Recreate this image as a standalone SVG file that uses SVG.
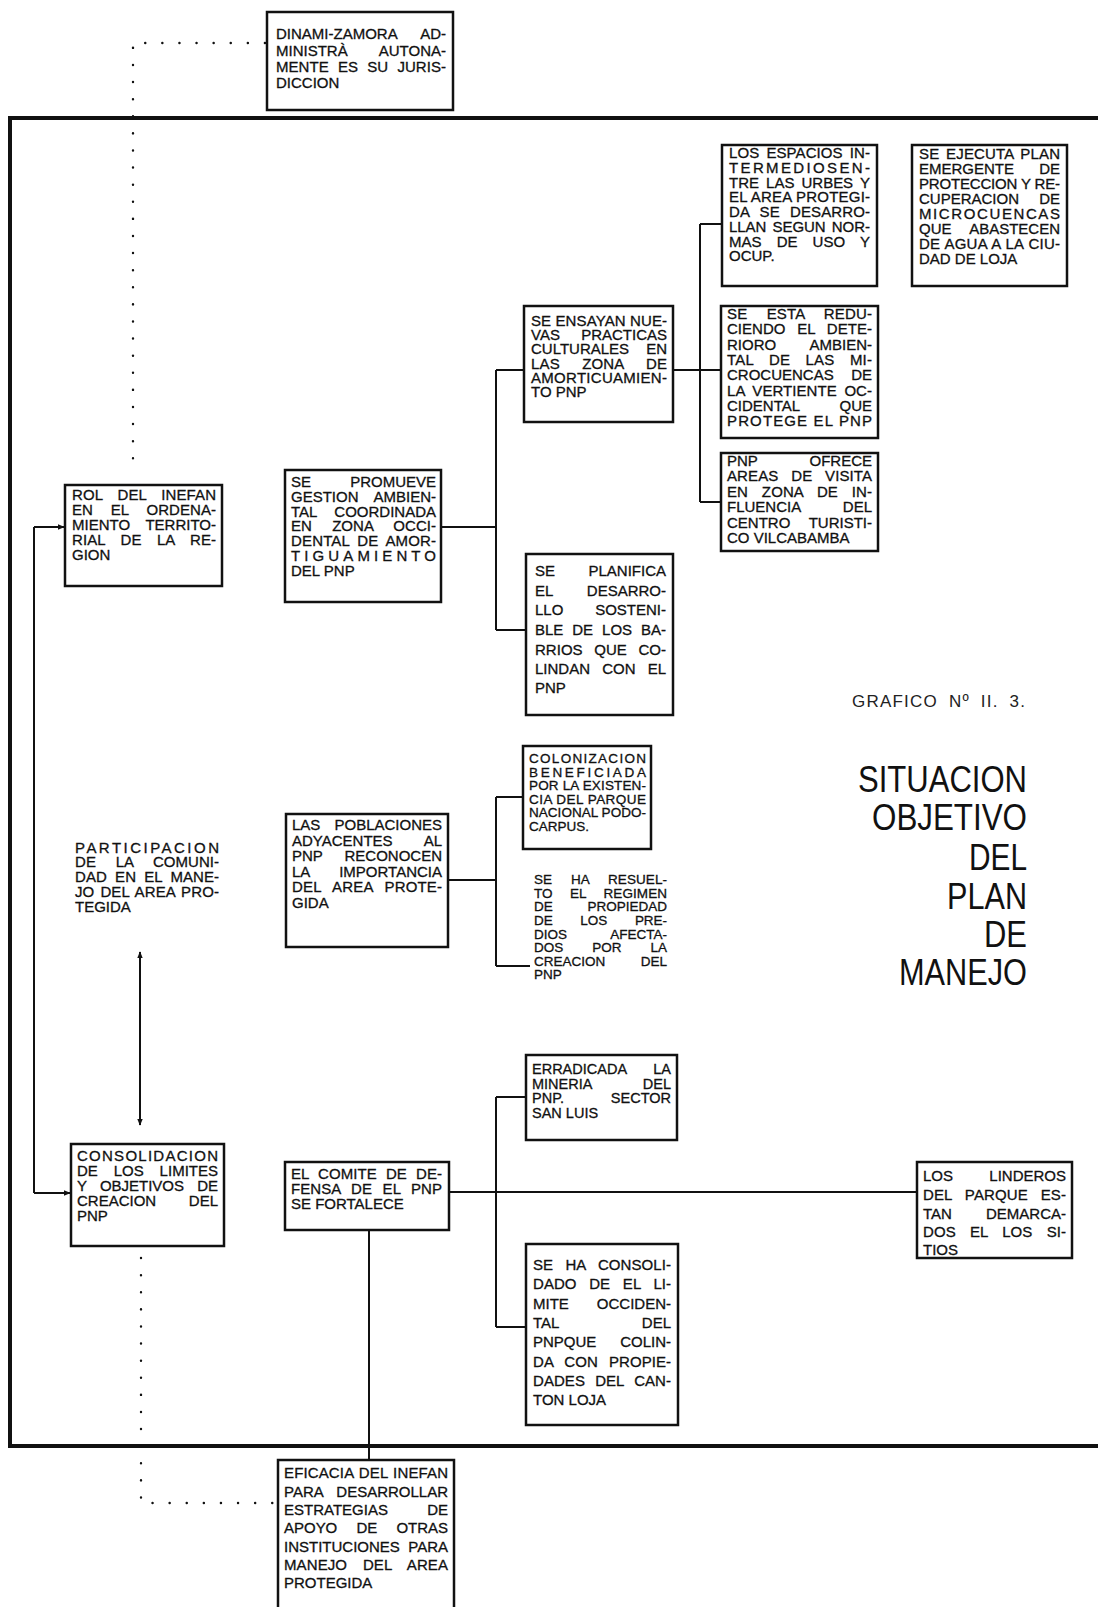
<svg xmlns="http://www.w3.org/2000/svg" width="1098" height="1607" viewBox="0 0 1098 1607">
<style>
.box{fill:#fff;stroke:#111;stroke-width:2.5}
.t{font-family:"Liberation Sans",Arial,Helvetica,sans-serif;font-size:15px;fill:#111;stroke:#111;stroke-width:0.3}
.tm{font-family:"Liberation Sans",Arial,Helvetica,sans-serif;font-size:14.5px;fill:#111;stroke:#111;stroke-width:0.3}
.ts{font-family:"Liberation Sans",Arial,Helvetica,sans-serif;font-size:13.5px;fill:#111;stroke:#111;stroke-width:0.3}
.e{text-anchor:end}
.big{font-family:"Liberation Sans",Arial,Helvetica,sans-serif;font-size:36px;fill:#111;text-anchor:end}
.ln{stroke:#111;stroke-width:2;fill:none}
.dot{stroke:#111;stroke-width:2.4;fill:none;stroke-dasharray:0.1 17;stroke-linecap:round}
.frame{stroke:#111;stroke-width:4;fill:none}
</style>
<defs>
<marker id="ah" viewBox="0 0 10 10" refX="9" refY="5" markerWidth="7" markerHeight="7" orient="auto-start-reverse" markerUnits="userSpaceOnUse">
<path d="M0,1 L10,5 L0,9 z" fill="#111"/>
</marker>
</defs>
<rect width="1098" height="1607" fill="#fff"/>
<path class="frame" d="M1098,118 H10 V1446 H1098"/>

<g id="connectors">
<path class="dot" d="M265,43 H133 V470"/>
<path class="dot" d="M141,1258 V1503 H276"/>
<path class="ln" d="M140,952 V1125" marker-start="url(#ah)" marker-end="url(#ah)"/>
<path class="ln" d="M34,527 V1193"/>
<path class="ln" d="M34,527 H64" marker-end="url(#ah)"/>
<path class="ln" d="M34,1193 H70" marker-end="url(#ah)"/>
<path class="ln" d="M441,527 H496 M496,370 V630 M496,370 H524 M496,630 H526"/>
<path class="ln" d="M673,370 H700 M700,224 V502 M700,224 H722 M700,370 H721 M700,502 H721"/>
<path class="ln" d="M448,880 H496 M496,797 V966 M496,797 H523 M496,966 H530"/>
<path class="ln" d="M449,1192 H917 M496,1097 V1327 M496,1097 H526 M496,1327 H526"/>
<path class="ln" d="M369,1230 V1460"/>
</g>

<g id="n-dinami">
<rect class="box" x="267" y="12" width="186" height="98"/>
<text class="t" x="276" y="39">DINAMI-ZAMORA</text><text class="t e" x="446" y="39">AD-</text>
<text class="t" x="276" y="56">MINISTRÀ</text><text class="t e" x="446" y="56">AUTONA-</text>
<text class="t" x="276" y="72" textLength="170" style="word-spacing:5px">MENTE ES SU JURIS-</text>
<text class="t" x="276" y="88">DICCION</text>
</g>

<g id="n-espacios">
<rect class="box" x="722" y="145" width="155" height="141"/>
<text class="t" x="729" y="158" textLength="141" style="word-spacing:3px">LOS ESPACIOS IN-</text>
<text class="t" x="729" y="173" textLength="141">TERMEDIOSEN-</text>
<text class="t" x="729" y="188" textLength="141" style="word-spacing:3px">TRE LAS URBES Y</text>
<text class="t" x="729" y="202" textLength="141">EL AREA PROTEGI-</text>
<text class="t" x="729" y="217" textLength="141" style="word-spacing:6px">DA SE DESARRO-</text>
<text class="t" x="729" y="232" textLength="141" style="word-spacing:2px">LLAN SEGUN NOR-</text>
<text class="t" x="729" y="247" textLength="141" style="word-spacing:11px">MAS DE USO Y</text>
<text class="t" x="729" y="261">OCUP.</text>
</g>

<g id="n-ejecuta">
<rect class="box" x="912" y="145" width="155" height="141"/>
<text class="t" x="919" y="159" textLength="141" style="word-spacing:2.5px">SE EJECUTA PLAN</text>
<text class="t" x="919" y="174">EMERGENTE</text><text class="t e" x="1060" y="174">DE</text>
<text class="t" x="919" y="189" textLength="141">PROTECCION Y RE-</text>
<text class="t" x="919" y="204">CUPERACION</text><text class="t e" x="1060" y="204">DE</text>
<text class="t" x="919" y="219" textLength="141">MICROCUENCAS</text>
<text class="t" x="919" y="234">QUE</text><text class="t e" x="1060" y="234">ABASTECEN</text>
<text class="t" x="919" y="249" textLength="141" style="word-spacing:0.5px">DE AGUA A LA CIU-</text>
<text class="t" x="919" y="264">DAD DE LOJA</text>
</g>

<g id="n-ensayan">
<rect class="box" x="524" y="306" width="149" height="116"/>
<text class="t" x="531" y="326" textLength="136">SE ENSAYAN NUE-</text>
<text class="t" x="531" y="340">VAS</text><text class="t e" x="667" y="340">PRACTICAS</text>
<text class="t" x="531" y="354">CULTURALES</text><text class="t e" x="667" y="354">EN</text>
<text class="t" x="531" y="369" textLength="136" style="word-spacing:18px">LAS ZONA DE</text>
<text class="t" x="531" y="383" textLength="136">AMORTICUAMIEN-</text>
<text class="t" x="531" y="397">TO PNP</text>
</g>

<g id="n-reduciendo">
<rect class="box" x="721" y="306" width="157" height="132"/>
<text class="t" x="727" y="319" textLength="145" style="word-spacing:15px">SE ESTA REDU-</text>
<text class="t" x="727" y="334" textLength="145" style="word-spacing:7.5px">CIENDO EL DETE-</text>
<text class="t" x="727" y="350">RIORO</text><text class="t e" x="872" y="350">AMBIEN-</text>
<text class="t" x="727" y="365" textLength="145" style="word-spacing:11px">TAL DE LAS MI-</text>
<text class="t" x="727" y="380">CROCUENCAS</text><text class="t e" x="872" y="380">DE</text>
<text class="t" x="727" y="396" textLength="145" style="word-spacing:3.5px">LA VERTIENTE OC-</text>
<text class="t" x="727" y="411">CIDENTAL</text><text class="t e" x="872" y="411">QUE</text>
<text class="t" x="727" y="426" textLength="145">PROTEGE EL PNP</text>
</g>

<g id="n-ofrece">
<rect class="box" x="721" y="453" width="157" height="98"/>
<text class="t" x="727" y="466">PNP</text><text class="t e" x="872" y="466">OFRECE</text>
<text class="t" x="727" y="481" textLength="145" style="word-spacing:8.5px">AREAS DE VISITA</text>
<text class="t" x="727" y="497" textLength="145" style="word-spacing:9.5px">EN ZONA DE IN-</text>
<text class="t" x="727" y="512">FLUENCIA</text><text class="t e" x="872" y="512">DEL</text>
<text class="t" x="727" y="528">CENTRO</text><text class="t e" x="872" y="528">TURISTI-</text>
<text class="t" x="727" y="543">CO VILCABAMBA</text>
</g>

<g id="n-rol">
<rect class="box" x="65" y="485" width="157" height="101"/>
<text class="t" x="72" y="500" textLength="144" style="word-spacing:10.5px">ROL DEL INEFAN</text>
<text class="t" x="72" y="515" textLength="144" style="word-spacing:13.5px">EN EL ORDENA-</text>
<text class="t" x="72" y="530">MIENTO</text><text class="t e" x="216" y="530">TERRITO-</text>
<text class="t" x="72" y="545" textLength="144" style="word-spacing:11px">RIAL DE LA RE-</text>
<text class="t" x="72" y="560">GION</text>
</g>

<g id="n-promueve">
<rect class="box" x="285" y="470" width="156" height="132"/>
<text class="t" x="291" y="487">SE</text><text class="t e" x="436" y="487">PROMUEVE</text>
<text class="t" x="291" y="502">GESTION</text><text class="t e" x="436" y="502">AMBIEN-</text>
<text class="t" x="291" y="517">TAL</text><text class="t e" x="436" y="517">COORDINADA</text>
<text class="t" x="291" y="531" textLength="145" style="word-spacing:16px">EN ZONA OCCI-</text>
<text class="t" x="291" y="546" textLength="145" style="word-spacing:3.5px">DENTAL DE AMOR-</text>
<text class="t" x="291" y="561" textLength="145">TIGUAMIENTO</text>
<text class="t" x="291" y="576">DEL PNP</text>
</g>

<g id="n-planifica">
<rect class="box" x="526" y="554" width="147" height="161"/>
<text class="t" x="535" y="576">SE</text><text class="t e" x="666" y="576">PLANIFICA</text>
<text class="t" x="535" y="596">EL</text><text class="t e" x="666" y="596">DESARRO-</text>
<text class="t" x="535" y="615">LLO</text><text class="t e" x="666" y="615">SOSTENI-</text>
<text class="t" x="535" y="635" textLength="131" style="word-spacing:4.7px">BLE DE LOS BA-</text>
<text class="t" x="535" y="655" textLength="131" style="word-spacing:7.5px">RRIOS QUE CO-</text>
<text class="t" x="535" y="674" textLength="131" style="word-spacing:8px">LINDAN CON EL</text>
<text class="t" x="535" y="693">PNP</text>
</g>

<g id="n-colonizacion">
<rect class="box" x="523" y="746" width="128" height="103"/>
<text class="ts" x="529" y="763" textLength="117">COLONIZACION</text>
<text class="ts" x="529" y="777" textLength="117">BENEFICIADA</text>
<text class="ts" x="529" y="790" textLength="117">POR LA EXISTEN-</text>
<text class="ts" x="529" y="804" textLength="117">CIA DEL PARQUE</text>
<text class="ts" x="529" y="817" textLength="117">NACIONAL PODO-</text>
<text class="ts" x="529" y="831">CARPUS.</text>
</g>

<g id="n-poblaciones">
<rect class="box" x="286" y="814" width="162" height="133"/>
<text class="t" x="292" y="830">LAS</text><text class="t e" x="442" y="830">POBLACIONES</text>
<text class="t" x="292" y="846">ADYACENTES</text><text class="t e" x="442" y="846">AL</text>
<text class="t" x="292" y="861">PNP</text><text class="t e" x="442" y="861">RECONOCEN</text>
<text class="t" x="292" y="877">LA</text><text class="t e" x="442" y="877">IMPORTANCIA</text>
<text class="t" x="292" y="892" textLength="150" style="word-spacing:7.5px">DEL AREA PROTE-</text>
<text class="t" x="292" y="908">GIDA</text>
</g>

<g id="n-participacion">
<text class="t" x="75" y="853" textLength="144">PARTICIPACION</text>
<text class="t" x="75" y="867" textLength="144" style="word-spacing:15.5px">DE LA COMUNI-</text>
<text class="t" x="75" y="882" textLength="144" style="word-spacing:4px">DAD EN EL MANE-</text>
<text class="t" x="75" y="897" textLength="144" style="word-spacing:1.7px">JO DEL AREA PRO-</text>
<text class="t" x="75" y="912">TEGIDA</text>
</g>

<g id="n-resuelto">
<text class="ts" x="534" y="884" textLength="133" style="word-spacing:15px">SE HA RESUEL-</text>
<text class="ts" x="534" y="898" textLength="133" style="word-spacing:13.5px">TO EL REGIMEN</text>
<text class="ts" x="534" y="911">DE</text><text class="ts e" x="667" y="911">PROPIEDAD</text>
<text class="ts" x="534" y="925" textLength="133" style="word-spacing:24px">DE LOS PRE-</text>
<text class="ts" x="534" y="939">DIOS</text><text class="ts e" x="667" y="939">AFECTA-</text>
<text class="ts" x="534" y="952" textLength="133" style="word-spacing:25px">DOS POR LA</text>
<text class="ts" x="534" y="966">CREACION</text><text class="ts e" x="667" y="966">DEL</text>
<text class="ts" x="534" y="979">PNP</text>
</g>

<g id="title">
<text x="852" y="707" textLength="173" style="font-family:'Liberation Sans',Arial,sans-serif;font-size:17px;fill:#222;word-spacing:5px">GRAFICO Nº II. 3.</text>
<text class="big" x="1027" y="792" textLength="169" lengthAdjust="spacingAndGlyphs">SITUACION</text>
<text class="big" x="1027" y="830" textLength="155" lengthAdjust="spacingAndGlyphs">OBJETIVO</text>
<text class="big" x="1027" y="870" textLength="58" lengthAdjust="spacingAndGlyphs">DEL</text>
<text class="big" x="1027" y="909" textLength="80" lengthAdjust="spacingAndGlyphs">PLAN</text>
<text class="big" x="1027" y="947" textLength="43" lengthAdjust="spacingAndGlyphs">DE</text>
<text class="big" x="1027" y="985" textLength="128" lengthAdjust="spacingAndGlyphs">MANEJO</text>
</g>

<g id="n-erradicada">
<rect class="box" x="526" y="1055" width="151" height="85"/>
<text class="tm" x="532" y="1074">ERRADICADA</text><text class="tm e" x="671" y="1074">LA</text>
<text class="tm" x="532" y="1088.5">MINERIA</text><text class="tm e" x="671" y="1088.5">DEL</text>
<text class="tm" x="532" y="1103">PNP.</text><text class="tm e" x="671" y="1103">SECTOR</text>
<text class="tm" x="532" y="1117.5">SAN LUIS</text>
</g>

<g id="n-consolidacion">
<rect class="box" x="71" y="1144" width="153" height="102"/>
<text class="t" x="77" y="1161" textLength="141">CONSOLIDACION</text>
<text class="t" x="77" y="1176" textLength="141" style="word-spacing:11.7px">DE LOS LIMITES</text>
<text class="t" x="77" y="1191" textLength="141" style="word-spacing:9px">Y OBJETIVOS DE</text>
<text class="t" x="77" y="1206">CREACION</text><text class="t e" x="218" y="1206">DEL</text>
<text class="t" x="77" y="1221">PNP</text>
</g>

<g id="n-comite">
<rect class="box" x="285" y="1162" width="164" height="68"/>
<text class="t" x="291" y="1179" textLength="151" style="word-spacing:5px">EL COMITE DE DE-</text>
<text class="t" x="291" y="1194" textLength="151" style="word-spacing:6.2px">FENSA DE EL PNP</text>
<text class="t" x="291" y="1209">SE FORTALECE</text>
</g>

<g id="n-linderos">
<rect class="box" x="917" y="1162" width="155" height="96"/>
<text class="t" x="923" y="1181">LOS</text><text class="t e" x="1066" y="1181">LINDEROS</text>
<text class="t" x="923" y="1200" textLength="143" style="word-spacing:8.5px">DEL PARQUE ES-</text>
<text class="t" x="923" y="1219">TAN</text><text class="t e" x="1066" y="1219">DEMARCA-</text>
<text class="t" x="923" y="1237" textLength="143" style="word-spacing:10px">DOS EL LOS SI-</text>
<text class="t" x="923" y="1255">TIOS</text>
</g>

<g id="n-consolidado">
<rect class="box" x="526" y="1244" width="152" height="181"/>
<text class="t" x="533" y="1270" textLength="138" style="word-spacing:8px">SE HA CONSOLI-</text>
<text class="t" x="533" y="1289" textLength="138" style="word-spacing:8.5px">DADO DE EL LI-</text>
<text class="t" x="533" y="1309">MITE</text><text class="t e" x="671" y="1309">OCCIDEN-</text>
<text class="t" x="533" y="1328">TAL</text><text class="t e" x="671" y="1328">DEL</text>
<text class="t" x="533" y="1347">PNPQUE</text><text class="t e" x="671" y="1347">COLIN-</text>
<text class="t" x="533" y="1367" textLength="138" style="word-spacing:7px">DA CON PROPIE-</text>
<text class="t" x="533" y="1386" textLength="138" style="word-spacing:6px">DADES DEL CAN-</text>
<text class="t" x="533" y="1405">TON LOJA</text>
</g>

<g id="n-eficacia">
<rect class="box" x="278" y="1460" width="176" height="170"/>
<text class="t" x="284" y="1478" textLength="164" style="word-spacing:1px">EFICACIA DEL INEFAN</text>
<text class="t" x="284" y="1497">PARA</text><text class="t e" x="448" y="1497">DESARROLLAR</text>
<text class="t" x="284" y="1515">ESTRATEGIAS</text><text class="t e" x="448" y="1515">DE</text>
<text class="t" x="284" y="1533" textLength="164" style="word-spacing:15px">APOYO DE OTRAS</text>
<text class="t" x="284" y="1552">INSTITUCIONES</text><text class="t e" x="448" y="1552">PARA</text>
<text class="t" x="284" y="1570" textLength="164" style="word-spacing:11.5px">MANEJO DEL AREA</text>
<text class="t" x="284" y="1588">PROTEGIDA</text>
</g>
</svg>
